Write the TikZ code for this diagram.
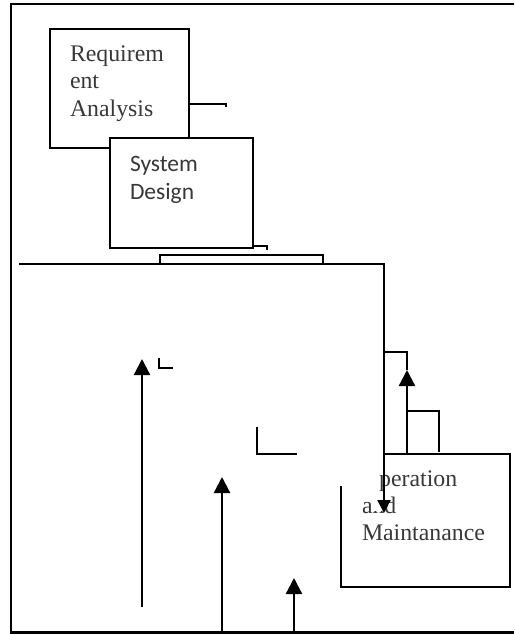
\documentclass[tikz,border=0pt]{standalone}
\usepackage{fontspec}
\setmainfont{Liberation Serif}
\newfontfamily\sdfont{Carlito}
\usetikzlibrary{arrows.meta,calc}
\begin{document}
\begin{tikzpicture}[x=1pt,y=-1pt,line width=2.3pt,
  boxnode/.style={draw,rectangle,inner sep=0pt,outer sep=0pt,anchor=north west,line width=2.3pt},
  plainbox/.style={rectangle,inner sep=0pt,outer sep=0pt,anchor=north west},
  txt/.style={anchor=base west,inner sep=0pt,outer sep=0pt,font=\fontsize{23.8}{28}\selectfont,text=black!78},
  sdtxt/.style={txt,font=\sdfont\fontsize{23.5}{28}\selectfont},
  uptip/.style={-{Triangle[length=16pt,width=16pt]}},
  dntip/.style={-{Triangle[length=13pt,width=13pt]}}]
\useasboundingbox (0,0) rectangle (514,634);
% frame
\coordinate (ftr) at (514,4);
\coordinate (ftl) at (11,4);
\coordinate (fbl) at (11,632.5);
\coordinate (fbr) at (514,632.5);
\draw (ftr) -- (ftl) -- (fbl) -- (fbr);
% Requirement Analysis
\node[boxnode,minimum width=139pt,minimum height=119pt] (ra) at (50,29) {};
\node[txt] (ra1) at (70,61) {Requirem};
\node[txt] (ra2) at (70,88.5) {ent};
\node[txt] (ra3) at (70,116) {Analysis};
\coordinate (raend) at (226,104);
\coordinate (ratick) at (226,107);
\draw (ra.east |- raend) -- (raend) -- (ratick);
% System Design
\node[boxnode,fill=white,minimum width=143pt,minimum height=110pt] (sd) at (110,138) {};
\node[sdtxt] (sd1) at (130,171) {System};
\node[sdtxt] (sd2) at (130,199) {Design};
\coordinate (sdend) at (267,246);
\coordinate (sdtick) at (267,250);
\draw (sd.east |- sdend) -- (sdend) -- (sdtick);
% thin bar
\node[boxnode,minimum width=163pt,minimum height=9pt] (bar) at (160,255) {};
% Operation and Maintanance
\node[plainbox,minimum width=169pt,minimum height=133pt] (om) at (341,454) {};
\coordinate (lstart) at (19,264);
\coordinate (lcorner) at (384,264);
\coordinate (omleft) at (341,486);
\draw (lcorner |- om.north) -- (om.north east) -- (om.south east) -- (om.south west) -- (omleft);
\node[txt] (om1) at (362,486) {Operation};
\node[txt] (om2) at (362,513) {and};
\node[txt] (om3) at (362,540) {Maintanance};
\fill[white] (355,462) rectangle (379.3,488.5);
\fill[white] (372,499) rectangle (383,511.3);
% long connector down into O&M
\coordinate (dnend) at (384,513);
\draw[dntip] (lstart) -- (lcorner) -- (dnend);
% step connectors
\coordinate (st1) at (384,352);
\coordinate (st2) at (407,352);
\coordinate (st3) at (407,370);
\coordinate (st4) at (407,411);
\coordinate (st5) at (439,411);
\coordinate (st6) at (439,452);
\draw (st1) -- (st2) -- (st3);
\draw[uptip] (st3 |- om.north) -- (st3);
\draw (st4) -- (st5) -- (st6);
% left arrows
\coordinate (a1s) at (142,607);
\coordinate (a1e) at (142,359);
\draw[uptip] (a1s) -- (a1e);
\coordinate (a2s) at (222,634);
\coordinate (a2e) at (222,477);
\draw[uptip] (a2s) -- (a2e);
\coordinate (a3s) at (294,634);
\coordinate (a3e) at (294,578);
\draw[uptip] (a3s) -- (a3e);
% small corner marks
\coordinate (m1a) at (159,358);
\coordinate (m1b) at (159,368);
\coordinate (m1c) at (173,368);
\draw (m1a) -- (m1b) -- (m1c);
\coordinate (m2a) at (257,427);
\coordinate (m2b) at (257,454);
\coordinate (m2c) at (297,454);
\draw (m2a) -- (m2b) -- (m2c);
\end{tikzpicture}
\end{document}
